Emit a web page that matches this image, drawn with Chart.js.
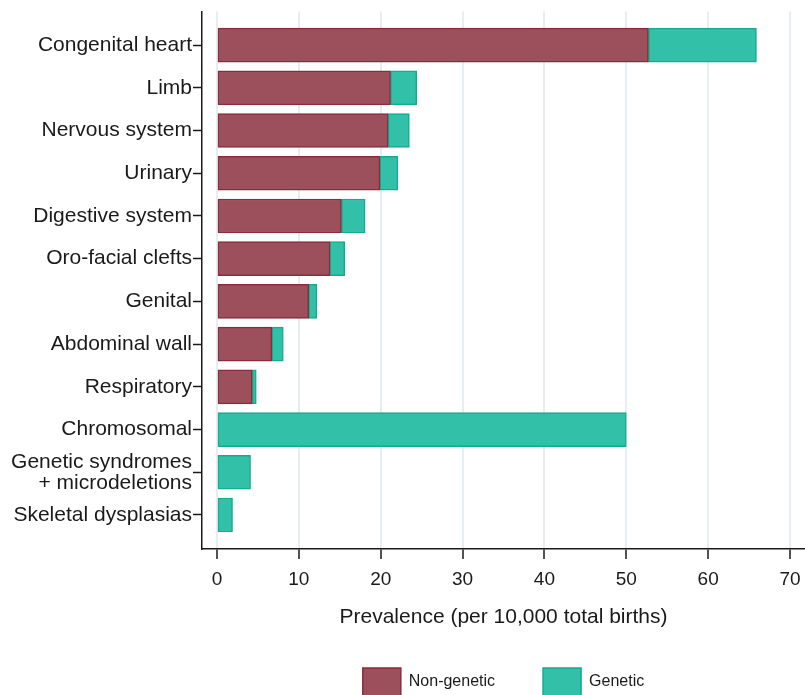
<!DOCTYPE html>
<html>
<head>
<meta charset="utf-8">
<script src="https://cdn.jsdelivr.net/npm/chart.js@4"></script>
<style>
  html, body { margin: 0; padding: 0; background: #fff; }
  #wrap { width: 805px; height: 695px; }
</style>
</head>
<body>
<div id="wrap"><canvas id="myChart"></canvas></div>
<script>
// Anomaly groups, top to bottom
const categories = [
  'Congenital heart', 'Limb', 'Nervous system', 'Urinary', 'Digestive system',
  'Oro-facial clefts', 'Genital', 'Abdominal wall', 'Respiratory', 'Chromosomal',
  ['Genetic syndromes', '+ microdeletions'], 'Skeletal dysplasias'
];

// Prevalence per 10,000 total births
const nonGenetic = [52.7, 21.2, 20.9, 19.9, 15.2, 13.8, 11.2, 6.7, 4.3, 0, 0, 0];
const genetic    = [13.2, 3.2, 2.6, 2.2, 2.9, 1.8, 1.0, 1.4, 0.5, 50.0, 4.1, 1.9];

const xTicks = [0, 10, 20, 30, 40, 50, 60, 70];

const font = 'Arial, "Liberation Sans", Helvetica, sans-serif';
const ink = '#1a1a1a';

// y is a linear index axis so the bars keep some air above and below
const toPoints = arr => arr.map((v, i) => ({ x: v, y: i }));

const ctx = document.getElementById('myChart').getContext('2d');

const myChart = new Chart(ctx, {
    type: 'bar',
    data: {
        datasets: [
            {
                label: 'Non-genetic',
                data: toPoints(nonGenetic),
                backgroundColor: '#9b505b',
                borderColor: '#8a2c3d',
                borderWidth: 1.5,
                borderSkipped: false,
                barThickness: 34
            },
            {
                label: 'Genetic',
                data: toPoints(genetic),
                backgroundColor: '#32c0a8',
                borderColor: '#12ad8e',
                borderWidth: 1.5,
                borderSkipped: false,
                barThickness: 34
            }
        ]
    },
    options: {
        indexAxis: 'y',
        responsive: true,
        maintainAspectRatio: false,
        animation: false,
        layout: {
            padding: { top: 10, left: 0, right: 0, bottom: -11 }
        },
        scales: {
            x: {
                type: 'linear',
                stacked: true,
                min: -1.83,
                max: 71.83,
                afterBuildTicks: axis => { axis.ticks = xTicks.map(v => ({ value: v })); },
                afterFit: scale => {
                    scale.height = 71;
                    // let the plot run right up to the edge
                    scale.paddingLeft = 0;
                    scale.paddingRight = 0;
                },
                grid: {
                    color: '#e7eef1',
                    lineWidth: 2,
                    tickColor: ink,
                    tickLength: 10,
                    tickWidth: 1.5
                },
                border: { display: true, color: ink, width: 1.5 },
                ticks: {
                    padding: 9,
                    color: ink,
                    font: { family: font, size: 19 }
                },
                title: {
                    display: true,
                    text: 'Prevalence (per 10,000 total births)',
                    color: ink,
                    font: { family: font, size: 21 },
                    padding: { top: 0, bottom: -10 }
                }
            },
            y: {
                type: 'linear',
                stacked: true,
                reverse: true,
                offset: false,
                min: -0.786,
                max: 11.796,
                afterBuildTicks: axis => { axis.ticks = categories.map((c, i) => ({ value: i })); },
                afterFit: scale => { scale.width = 202; },
                grid: {
                    offset: false,
                    drawOnChartArea: false,
                    tickColor: ink,
                    tickLength: 9,
                    tickWidth: 1.5
                },
                border: { display: true, color: ink, width: 1.5 },
                ticks: {
                    autoSkip: false,
                    padding: 1,
                    color: ink,
                    font: { family: font, size: 21, lineHeight: 1.0 },
                    callback: value => categories[value]
                }
            }
        },
        plugins: {
            tooltip: { enabled: false },
            legend: {
                position: 'bottom',
                fullSize: false,
                labels: {
                    boxWidth: 38,
                    boxHeight: 28,
                    padding: 48,
                    color: ink,
                    font: { family: font, size: 16 }
                }
            }
        }
    }
});
</script>
</body>
</html>
